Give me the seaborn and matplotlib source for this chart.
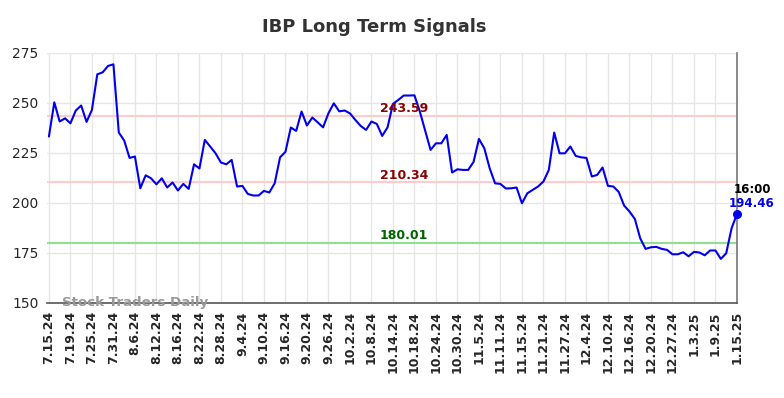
import numpy as np
import pandas as pd
import matplotlib
matplotlib.use("Agg")
import matplotlib.pyplot as plt
import seaborn as sns

tick_labels = ["7.15.24", "7.19.24", "7.25.24", "7.31.24", "8.6.24", "8.12.24", "8.16.24",
               "8.22.24", "8.28.24", "9.4.24", "9.10.24", "9.16.24", "9.20.24", "9.26.24",
               "10.2.24", "10.8.24", "10.14.24", "10.18.24", "10.24.24", "10.30.24", "11.5.24",
               "11.11.24", "11.15.24", "11.21.24", "11.27.24", "12.4.24", "12.10.24", "12.16.24",
               "12.20.24", "12.27.24", "1.3.25", "1.9.25", "1.15.25"]

prices = [233.2, 250.3, 240.7, 242.3, 239.8, 246.2, 248.7, 240.5, 246.5, 264.3,
          265.3, 268.5, 269.3, 235.2, 231.2, 222.5, 223.2, 207.3, 213.8, 212.3,
          209.3, 212.3, 207.7, 210.2, 206.2, 209.5, 207.0, 219.3, 217.2, 231.5,
          228.2, 224.8, 220.2, 219.3, 221.5, 208.2, 208.5, 204.5, 203.7, 203.7,
          206.0, 205.2, 209.8, 222.8, 225.5, 237.7, 236.0, 245.7, 238.7, 242.7,
          240.3, 237.8, 244.8, 249.8, 245.8, 246.2, 244.8, 241.5, 238.5, 236.5,
          240.7, 239.5, 233.5, 237.8, 249.5, 251.5, 253.7, 253.7, 253.8, 245.7,
          236.2, 226.5, 229.8, 229.8, 234.0, 215.2, 216.8, 216.5, 216.5, 220.5,
          232.0, 227.3, 217.3, 209.8, 209.5, 207.2, 207.3, 207.7, 199.8, 204.8,
          206.5, 208.2, 210.7, 216.5, 235.2, 224.8, 224.8, 228.2, 223.5, 222.8,
          222.5, 213.2, 214.0, 217.7, 208.5, 208.2, 205.5, 198.7, 195.7, 192.0,
          182.3, 177.0, 177.8, 178.0, 177.0, 176.5, 174.3, 174.3, 175.3, 173.3,
          175.5, 175.2, 173.8, 176.2, 176.2, 172.0, 174.8, 187.3, 194.46]

upper_level = 243.59
mid_level = 210.34
lower_level = 180.01
last_time = "16:00"

df = pd.DataFrame({"idx": np.arange(len(prices)), "price": prices})

sns.set_theme(style="white")
plt.rcParams["font.family"] = ["DejaVu Sans"]

fig = plt.figure(figsize=(7.84, 3.98), dpi=100)
ax = fig.add_axes([0.060, 0.239, 0.880, 0.628])

sns.lineplot(data=df, x="idx", y="price", ax=ax, color="#0000ee", linewidth=1.5, zorder=3)

ax.axhline(upper_level, color="#ffcccc", linewidth=1.5, zorder=2)
ax.axhline(mid_level, color="#ffcccc", linewidth=1.5, zorder=2)
ax.axhline(lower_level, color="#90e090", linewidth=1.5, zorder=2)

mid_x = 66
for lvl, col in [(upper_level, "#8b0000"), (mid_level, "#8b0000"), (lower_level, "#006400")]:
    ax.text(mid_x, lvl + 3.5, f"{lvl:.2f}", color=col, fontsize=9,
            fontweight="bold", ha="center", va="center", zorder=4)

last_i = len(prices) - 1
ax.scatter([last_i], [prices[-1]], color="#0000ee", s=30, zorder=5, clip_on=False)
ax.text(last_i + 2.8, prices[-1] + 5, f"{prices[-1]:.2f}", color="#0000ee", fontsize=8.5,
        fontweight="bold", ha="center", va="center", zorder=5)
ax.text(last_i + 2.8, prices[-1] + 12, last_time, color="black", fontsize=8.5,
        fontweight="bold", ha="center", va="center", zorder=5)

tick_pos = np.arange(0, len(prices), 4)
ax.set_xticks(tick_pos)
ax.set_xticklabels(tick_labels, rotation=90, fontsize=9, fontweight="bold")
ax.set_yticks([150, 175, 200, 225, 250, 275])
ax.tick_params(axis="y", labelsize=10, length=0, pad=6)
ax.tick_params(axis="x", length=0, pad=6)
ax.set_xlim(-0.35, last_i)
ax.set_ylim(150, 275)
ax.set_xlabel("")
ax.set_ylabel("")
ax.grid(True, color="#e6e6e6", linewidth=1)
ax.set_axisbelow(True)

for side in ["top", "left"]:
    ax.spines[side].set_visible(False)
ax.spines["bottom"].set_color("#555555")
ax.spines["right"].set_color("#777777")
ax.spines["bottom"].set_linewidth(1.2)
ax.spines["right"].set_linewidth(1.2)

ax.text(2.4, 148.2, "Stock Traders Daily", color="#999999", fontsize=9.6, fontweight="bold",
        ha="left", va="baseline", zorder=6, clip_on=False)

fig.text(0.477, 0.92, "IBP Long Term Signals", fontsize=13, fontweight="bold", color="#333333",
         ha="center", va="baseline")

fig.savefig("out.png", dpi=100)
